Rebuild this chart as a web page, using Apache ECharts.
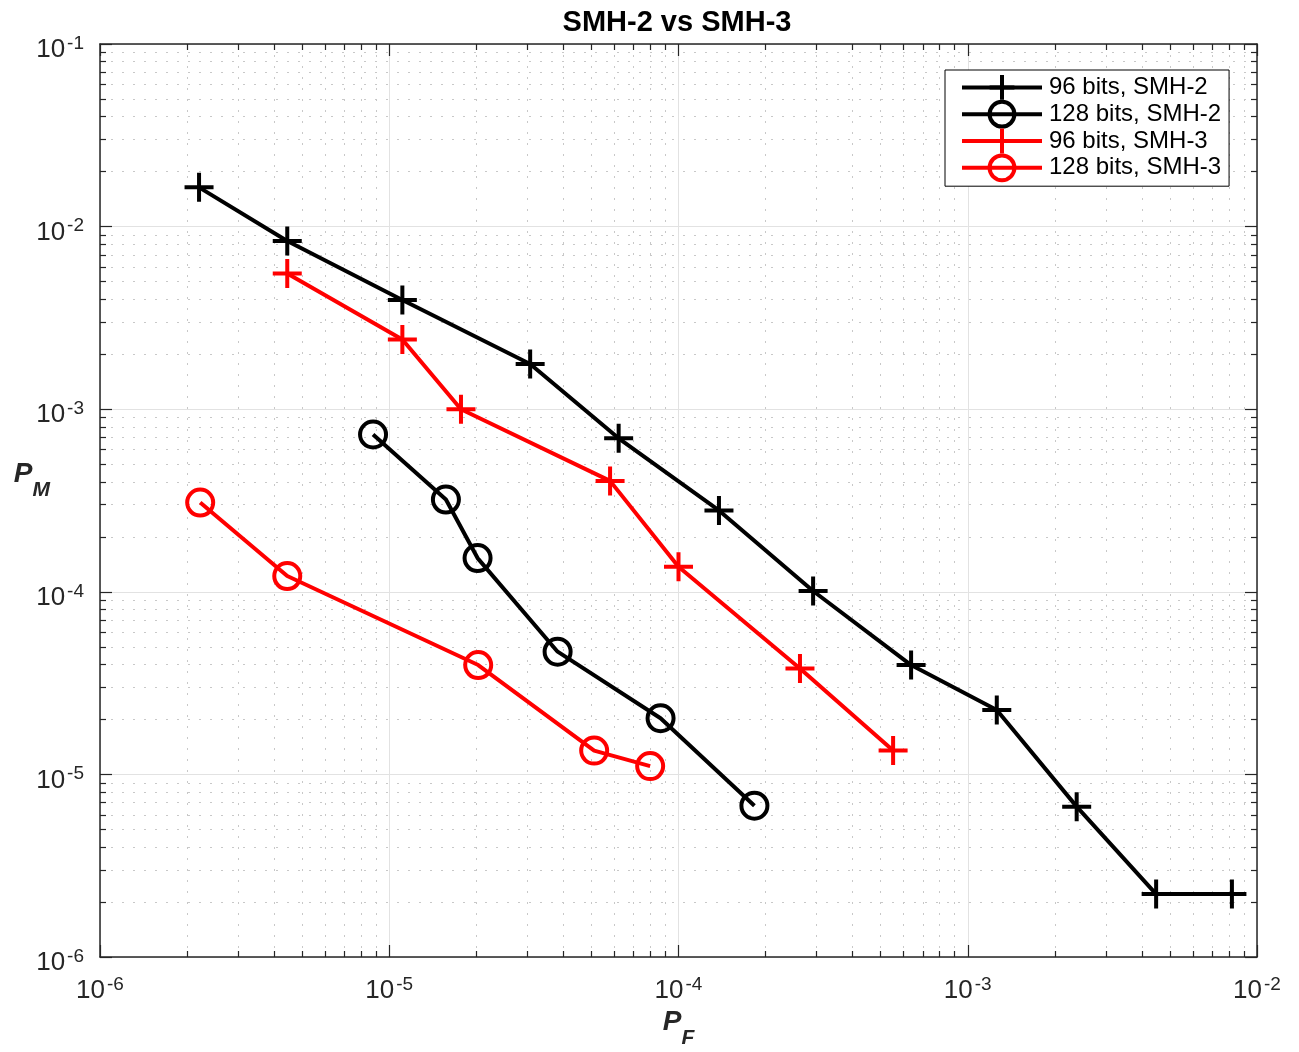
<!DOCTYPE html>
<html>
<head>
<meta charset="utf-8">
<script src="https://cdn.jsdelivr.net/npm/echarts@6/dist/echarts.min.js"></script>
<style>
html,body{margin:0;padding:0;background:#fff;}
#chart{width:1299px;height:1052px;}
</style>
</head>
<body>
<div id="chart"></div>
<script>
// False-alarm probability P_F and miss probability P_M for each hash setup
const pf96Smh2  = [2.20e-6, 4.44e-6, 1.11e-5, 3.07e-5, 6.21e-5, 1.38e-4, 2.92e-4, 6.37e-4, 1.26e-3, 2.38e-3, 4.48e-3, 8.19e-3];
const pm96Smh2  = [1.64e-2, 8.34e-3, 3.96e-3, 1.77e-3, 6.93e-4, 2.79e-4, 1.01e-4, 3.97e-5, 2.25e-5, 6.66e-6, 2.21e-6, 2.21e-6];
const pf128Smh2 = [8.79e-6, 1.57e-5, 2.02e-5, 3.82e-5, 8.67e-5, 1.83e-4];
const pm128Smh2 = [7.27e-4, 3.20e-4, 1.53e-4, 4.70e-5, 2.03e-5, 6.74e-6];
const pf96Smh3  = [4.44e-6, 1.11e-5, 1.77e-5, 5.80e-5, 1.00e-4, 2.63e-4, 5.52e-4];
const pm96Smh3  = [5.54e-3, 2.41e-3, 1.00e-3, 4.05e-4, 1.37e-4, 3.80e-5, 1.35e-5];
const pf128Smh3 = [2.22e-6, 4.44e-6, 2.03e-5, 5.11e-5, 7.98e-5];
const pm128Smh3 = [3.08e-4, 1.22e-4, 3.97e-5, 1.35e-5, 1.11e-5];

const seriesNames = ['96 bits, SMH-2', '128 bits, SMH-2', '96 bits, SMH-3', '128 bits, SMH-3'];
const xMajorTicks = [1e-6, 1e-5, 1e-4, 1e-3, 1e-2];
const yMajorTicks = [1e-6, 1e-5, 1e-4, 1e-3, 1e-2, 1e-1];

const FONT = '"Liberation Sans", Arial, Helvetica, sans-serif';
const AXIS_COLOR = '#262626';
const LINE_W = 4;

// 2..9 times each decade between consecutive major ticks
function minorOf(majors) {
  const out = [];
  for (let i = 0; i < majors.length - 1; i++) {
    for (let m = 2; m <= 9; m++) out.push(m * majors[i]);
  }
  return out;
}
const xMinorTicks = minorOf(xMajorTicks);
const yMinorTicks = minorOf(yMajorTicks);

function expLabel(v) {
  const e = Math.round(Math.log10(v));
  return '{b|10}{s|' + e + '}';
}
const labelRich = {
  b: { fontSize: 26, lineHeight: 32, fontFamily: FONT, color: AXIS_COLOR },
  s: { fontSize: 19, lineHeight: 20, verticalAlign: 'top', fontFamily: FONT, color: AXIS_COLOR, padding: [0, 0, 0, 2] }
};

function logAxis(dim, position, ticks, isMajor, extra) {
  const gridSide = dim === 'x' ? 'bottom' : 'left';
  const ext = dim === 'x' ? [xMajorTicks[0], xMajorTicks[xMajorTicks.length - 1]]
                          : [yMajorTicks[0], yMajorTicks[yMajorTicks.length - 1]];
  return Object.assign({
    type: 'log',
    logBase: 10,
    min: ext[0],
    max: ext[1],
    position: position,
    gridIndex: 0,
    axisLine: { show: isMajor, onZero: false, lineStyle: { color: AXIS_COLOR, width: 1.5 } },
    axisTick: {
      show: true, inside: true, length: isMajor ? 12 : 6, customValues: ticks,
      lineStyle: { color: AXIS_COLOR, width: 1.2 }
    },
    axisLabel: { show: false },
    splitLine: {
      show: position === gridSide,
      lineStyle: isMajor ? { color: '#e2e2e2', width: 1, type: 'solid' }
                         : { color: '#c8c8c8', width: 1, type: [2, 9] }
    },
    minorTick: { show: false },
    minorSplitLine: { show: false }
  }, extra || {});
}

const plusSymbol = 'path://M10,0L10,20M0,10L20,10';
function makeSeries(name, xs, ys, color, marker) {
  return {
    name: name,
    type: 'line',
    xAxisIndex: 0,
    yAxisIndex: 0,
    data: xs.map((x, i) => [x, ys[i]]),
    symbol: marker === 'plus' ? plusSymbol : 'circle',
    symbolSize: marker === 'plus' ? 29 : 26,
    showAllSymbol: true,
    lineStyle: { color: color, width: LINE_W },
    itemStyle: { color: 'transparent', borderColor: color, borderWidth: LINE_W },
    emphasis: { disabled: true },
    animation: false
  };
}

const nameRich = (sub) => ({
  p: { fontSize: 28, fontWeight: 'bold', fontStyle: 'italic', fontFamily: FONT, color: AXIS_COLOR, lineHeight: 30, verticalAlign: 'top' },
  [sub]: { fontSize: 21, fontWeight: 'bold', fontStyle: 'italic', fontFamily: FONT, color: AXIS_COLOR, lineHeight: 60 }
});

const chart = echarts.init(document.getElementById('chart'), null, { renderer: 'canvas' });
chart.setOption({
  animation: false,
  backgroundColor: '#fff',
  title: {
    text: 'SMH-2 vs SMH-3',
    left: 672, top: 3, textAlign: 'center',
    textStyle: { fontSize: 29, fontWeight: 'bold', color: '#000', fontFamily: FONT }
  },
  grid: { left: 100, right: 42, top: 44, bottom: 95, containLabel: false, outerBoundsMode: 'none' },
  legend: {
    orient: 'vertical',
    left: 945, top: 70,
    data: seriesNames,
    itemWidth: 80, itemHeight: 31, itemGap: -2,
    padding: [3, 8, 4, 15],
    borderColor: '#000', borderWidth: 1, backgroundColor: '#fff',
    lineStyle: { width: LINE_W },
    itemStyle: { borderWidth: LINE_W },
    textStyle: { fontSize: 24, fontFamily: FONT, color: '#000', padding: [0, 0, 0, 2] },
    selectedMode: false
  },
  xAxis: [
    logAxis('x', 'bottom', xMajorTicks, true, {
      axisLabel: { show: true, customValues: xMajorTicks, formatter: expLabel, rich: labelRich, margin: 18 },
      name: '{p|P}{f|F}',
      nameLocation: 'middle',
      nameGap: 51,
      nameMoveOverlap: false,
      nameTextStyle: { rich: nameRich('f') }
    }),
    logAxis('x', 'bottom', xMinorTicks, false),
    logAxis('x', 'top', xMajorTicks, true),
    logAxis('x', 'top', xMinorTicks, false)
  ],
  yAxis: [
    logAxis('y', 'left', yMajorTicks, true, {
      axisLabel: { show: true, customValues: yMajorTicks, formatter: expLabel, rich: labelRich, margin: 16, padding: [12, 0, 0, 0] },
      name: '{p|P}{m|M}',
      nameLocation: 'middle',
      nameRotate: 0,
      nameGap: 50,
      nameMoveOverlap: false,
      nameTextStyle: { padding: [0, 0, 20, 0], rich: nameRich('m') }
    }),
    logAxis('y', 'left', yMinorTicks, false),
    logAxis('y', 'right', yMajorTicks, true),
    logAxis('y', 'right', yMinorTicks, false)
  ],
  series: [
    makeSeries(seriesNames[0], pf96Smh2, pm96Smh2, '#000000', 'plus'),
    makeSeries(seriesNames[1], pf128Smh2, pm128Smh2, '#000000', 'circle'),
    makeSeries(seriesNames[2], pf96Smh3, pm96Smh3, '#ff0000', 'plus'),
    makeSeries(seriesNames[3], pf128Smh3, pm128Smh3, '#ff0000', 'circle')
  ]
});
</script>
</body>
</html>
